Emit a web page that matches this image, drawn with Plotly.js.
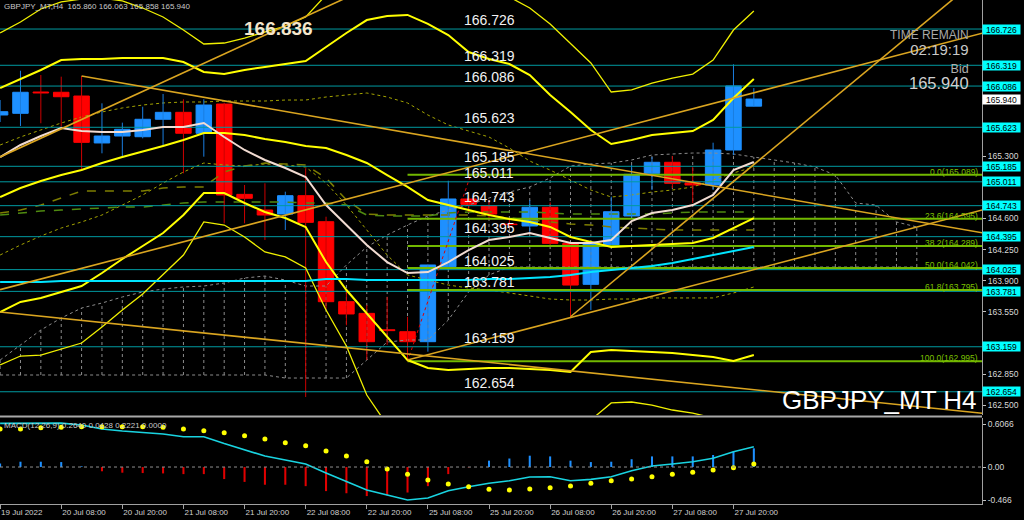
<!DOCTYPE html>
<html><head><meta charset="utf-8">
<script src="https://cdn.plot.ly/plotly-3.0.1.min.js"></script>
<style>html,body{margin:0;padding:0;background:#000;}#chart{width:1024px;height:520px;}</style>
</head><body><div id="chart"></div>
<script>
// ---- time axis ----
const tickIdx = [0,3,6,9,12,15,18,21,24,27,30,33,36];
const tickText = ['19 Jul 2022','20 Jul 08:00','20 Jul 20:00','21 Jul 08:00','21 Jul 20:00','22 Jul 08:00','22 Jul 20:00','25 Jul 08:00','25 Jul 20:00','26 Jul 08:00','26 Jul 20:00','27 Jul 08:00','27 Jul 20:00'];

// ---- H4 candles ----
const open  = [165.761,165.780,166.019,166.016,165.974,165.447,165.525,165.517,165.713,165.791,165.556,165.884,164.870,164.694,164.649,164.855,164.563,163.665,163.534,163.350,163.328,163.216,164.058,164.818,164.739,164.535,164.515,164.725,164.320,163.860,164.302,164.627,165.106,165.230,164.999,164.975,165.368,165.860];
const high  = [165.929,166.258,166.210,166.191,166.199,165.892,165.675,165.854,165.997,165.937,165.937,165.899,164.975,164.994,164.900,165.163,164.619,163.800,163.628,163.720,163.496,164.080,165.023,164.863,164.807,164.600,164.807,164.780,164.330,164.330,164.844,165.200,165.290,165.301,165.181,165.450,166.330,166.063];
const low   = [165.682,165.637,165.668,165.630,165.143,165.331,165.286,165.499,165.424,165.106,165.293,164.545,164.545,164.358,164.470,162.595,163.580,163.400,163.010,163.180,163.010,163.104,164.020,164.672,164.582,164.490,164.447,164.280,163.496,163.572,164.280,164.600,164.919,164.941,164.773,164.919,165.310,165.858];
const close = [165.798,166.016,166.008,165.966,165.454,165.525,165.600,165.713,165.791,165.556,165.873,164.863,164.826,164.638,164.855,164.556,163.665,163.527,163.216,163.340,163.216,164.077,164.818,164.758,164.649,164.530,164.725,164.320,163.852,164.313,164.675,165.095,165.230,164.994,164.975,165.368,166.087,165.940];

// ---- indicators (per bar) ----
const bbMid = [164.840,164.941,165.020,165.087,165.143,165.222,165.289,165.347,165.413,165.480,165.559,165.559,165.536,165.491,165.458,165.413,165.390,165.312,165.222,165.087,164.953,164.807,164.750,164.694,164.638,164.593,164.560,164.504,164.391,164.335,164.279,164.290,164.301,164.313,164.324,164.380,164.492,164.604];
const bbUp  = [166.064,166.165,166.266,166.378,166.390,166.390,166.401,166.401,166.401,166.356,166.244,166.221,166.266,166.300,166.333,166.367,166.524,166.682,166.827,166.872,166.884,166.783,166.659,166.468,166.390,166.333,166.210,165.985,165.795,165.593,165.435,165.480,165.536,165.559,165.581,165.705,165.952,166.165];
const bbLow = [163.549,163.662,163.706,163.774,163.841,163.987,164.144,164.290,164.436,164.638,164.885,164.885,164.773,164.672,164.604,164.504,164.110,163.796,163.538,163.269,163.010,162.921,162.898,162.909,162.921,162.921,162.909,162.898,162.876,163.100,163.123,163.111,163.100,163.089,163.066,163.044,162.999,163.066];
const bbUp3 = [166.682,166.805,166.951,167.030,167.063,167.074,167.041,166.962,166.861,166.715,166.558,166.569,166.625,166.693,166.760,166.861,167.108,167.333,167.557,167.670,167.670,167.557,167.389,167.277,167.164,167.086,166.962,166.783,166.569,166.345,166.019,166.042,166.120,166.176,166.221,166.378,166.715,166.929];
const bbLow3= [162.954,163.055,163.066,163.134,163.201,163.381,163.572,163.751,163.965,164.189,164.560,164.526,164.391,164.223,164.167,164.043,163.572,163.168,162.617,162.281,162.056,161.944,161.888,161.865,161.888,161.910,161.944,162.000,162.112,162.337,162.528,162.539,162.505,162.449,162.415,162.359,162.281,162.224];
const fastMA = [165.289,165.424,165.525,165.615,165.581,165.570,165.570,165.593,165.626,165.626,165.671,165.514,165.368,165.256,165.166,165.065,164.750,164.526,164.301,164.110,163.987,163.998,164.110,164.245,164.357,164.391,164.436,164.380,164.324,164.324,164.357,164.571,164.661,164.694,164.750,164.863,165.143,165.233];
const slowMA = [163.886,163.886,163.886,163.897,163.897,163.897,163.897,163.897,163.897,163.897,163.897,163.897,163.897,163.897,163.897,163.897,163.920,163.920,163.908,163.908,163.908,163.908,163.908,163.908,163.920,163.920,163.931,163.942,163.965,163.998,164.021,164.043,164.066,164.099,164.144,164.189,164.234,164.279];
const envUp = [165.424,165.514,165.593,165.671,165.739,165.795,165.840,165.873,165.896,165.907,165.907,165.918,165.918,165.918,165.929,165.929,165.963,165.985,166.008,165.963,165.896,165.761,165.649,165.581,165.514,165.390,165.244,165.143,165.031,164.919,164.840,164.863,164.896,164.919,164.953,165.031,165.110,165.177];
const envLow = [164.189,164.301,164.402,164.492,164.560,164.638,164.750,164.863,164.997,165.121,165.222,165.200,165.188,165.211,165.200,165.177,164.997,164.750,164.470,164.189,163.965,163.908,163.852,163.819,163.796,163.763,163.729,163.695,163.684,163.684,163.695,163.695,163.707,163.707,163.707,163.707,163.763,163.830];
const dashA = [164.661,164.694,164.750,164.829,164.908,164.908,164.908,164.908,164.941,164.953,164.953,165.121,165.188,165.222,165.211,165.200,165.054,164.807,164.649,164.638,164.638,164.638,164.638,164.638,164.627,164.604,164.582,164.560,164.537,164.526,164.504,164.492,164.481,164.470,164.470,164.470,164.470,164.470];
const dashB = [164.638,164.661,164.683,164.694,164.706,164.717,164.728,164.728,164.750,164.773,164.784,164.784,164.784,164.784,164.784,164.773,164.773,164.750,164.638,164.627,164.627,164.627,164.661,164.672,164.672,164.672,164.672,164.661,164.649,164.649,164.649,164.649,164.649,164.661,164.672,164.672,164.672,164.672];

// ---- dotted cloud (extends 8 bars ahead) ----
const cloudTop = [163.010,163.179,163.347,163.482,163.594,163.650,163.718,163.774,163.807,163.830,163.841,163.875,163.931,163.953,163.908,163.841,163.841,164.077,164.279,164.414,164.526,164.627,164.694,164.750,164.829,164.896,164.953,165.054,165.188,165.211,165.222,165.256,165.312,165.323,165.334,165.334,165.323,165.289,165.256,165.222,165.177,165.087,164.773,164.750,164.560,164.504];
const cloudBot = [162.842,162.842,162.842,162.842,162.842,162.842,162.842,162.842,162.842,162.842,162.842,162.842,162.842,162.842,162.808,162.808,162.808,162.808,163.010,163.212,163.235,163.235,163.459,163.774,163.965,164.054,164.054,164.054,164.054,164.054,164.054,164.054,164.054,164.054,164.054,164.054,164.054,164.054,164.054,164.054,164.054,164.054,164.054,164.054,164.054,164.054];

// ---- trend lines (bar index, price) ----
const tlX0 = [4, 0, 0, 0, 20, 28];
const tlY0 = [166.199, 163.800, 165.290, 163.550, 163.010, 163.496];
const tlX1 = [48.3, 48.3, 17.5, 48.3, 48.3, 48.3];
const tlY1 = [164.435, 166.685, 167.130, 162.410, 164.700, 167.350];

// ---- horizontal levels ----
const levels = [166.726,166.319,166.086,165.623,165.185,165.011,164.743,164.395,164.025,163.781,163.159,162.654];
const levelText = ['166.726','166.319','166.086','165.623','165.185','165.011','164.743','164.395','164.025','163.781','163.159','162.654'];

// ---- Fibonacci ----
const fibPct = ['0.0','23.6','38.2','50.0','61.8','100.0'];
const fibVal = [165.089,164.595,164.289,164.042,163.795,162.995];
const fibAnchorX = [20, 23.1];
const fibAnchorY = [162.995, 165.089];

// ---- MACD ----
const macdHist = [0.05,0.075,0.075,0.07,0.01,-0.06,-0.08,-0.085,-0.09,-0.10,-0.10,-0.17,-0.21,-0.25,-0.25,-0.27,-0.34,-0.37,-0.41,-0.40,-0.36,-0.27,-0.10,-0.005,0.09,0.12,0.16,0.15,0.09,0.07,0.075,0.11,0.15,0.15,0.15,0.17,0.22,0.264];
const macdMain = [0.617,0.62,0.62,0.62,0.593,0.537,0.508,0.484,0.466,0.428,0.428,0.332,0.24,0.155,0.099,0.042,-0.085,-0.208,-0.325,-0.395,-0.466,-0.438,-0.335,-0.278,-0.23,-0.193,-0.141,-0.137,-0.193,-0.174,-0.137,-0.052,0.014,0.042,0.075,0.123,0.216,0.287];
const macdSignal = [0.537,0.537,0.555,0.561,0.569,0.569,0.569,0.569,0.561,0.537,0.513,0.484,0.442,0.395,0.343,0.301,0.226,0.155,0.075,-0.028,-0.103,-0.184,-0.240,-0.278,-0.314,-0.325,-0.311,-0.292,-0.268,-0.230,-0.193,-0.169,-0.137,-0.103,-0.075,-0.042,-0.010,0.043];

const priceTicks = [162.5,162.85,163.55,163.9,164.25,164.6,165.3];
const macdTicks = [0.6066, 0, -0.466];
const macdTickText = ['0.6066','0.00','-0.466'];

// ---------------------------------------------------------------
const FONT = 'Liberation Sans, Arial, sans-serif';
const xRange = [-0.005, 48.2];
const bars = open.map((_, i) => i);
const cloudIdx = cloudTop.map((_, i) => i);
const BULL = '#1e90ff', BEAR = '#ff0000';

const traces = [];
// dotted cloud verticals
const vx = [], vy = [];
cloudIdx.forEach(i => { vx.push(i, i, null); vy.push(cloudBot[i], cloudTop[i], null); });
const dotGray = {color:'#8c8c8c', width:1, dash:'dot'};
traces.push({x:vx, y:vy, mode:'lines', line:dotGray});
traces.push({x:cloudIdx, y:cloudTop, mode:'lines', line:dotGray});
traces.push({x:cloudIdx, y:cloudBot, mode:'lines', line:dotGray});
// envelopes and dashed lines
traces.push({x:bars, y:envUp, mode:'lines', line:{color:'#a3a300', width:1, dash:'dot'}});
traces.push({x:bars, y:envLow, mode:'lines', line:{color:'#a3a300', width:1, dash:'dot'}});
traces.push({x:bars, y:dashA, mode:'lines', line:{color:'#7d7d00', width:1.5, dash:'dash'}});
traces.push({x:bars, y:dashB, mode:'lines', line:{color:'#4f8a10', width:1.5, dash:'dash'}});
// candle wicks
const wBx = [], wBy = [], wRx = [], wRy = [];
bars.forEach(i => {
  if (close[i] >= open[i]) { wBx.push(i, i, null); wBy.push(low[i], high[i], null); }
  else { wRx.push(i, i, null); wRy.push(low[i], high[i], null); }
});
traces.push({x:wBx, y:wBy, mode:'lines', line:{color:'#1a7ee0', width:1}});
traces.push({x:wRx, y:wRy, mode:'lines', line:{color:'#cc0000', width:1}});
// candle bodies
const bodyColor = bars.map(i => close[i] >= open[i] ? BULL : BEAR);
traces.push({type:'bar', x:bars, base:bars.map(i => Math.min(open[i], close[i])),
  y:bars.map(i => Math.abs(close[i] - open[i])), width:0.76,
  marker:{color:bodyColor, line:{color:bodyColor, width:1}}});
// level lines
levels.forEach(v => traces.push({x:xRange, y:[v, v], mode:'lines', line:{color:'#009aa0', width:1}}));
// fib lines
fibVal.forEach(v => traces.push({x:[fibAnchorX[0], xRange[1]], y:[v, v], mode:'lines', line:{color:'#72b800', width:2}}));
traces.push({x:fibAnchorX, y:fibAnchorY, mode:'lines', line:{color:'#e00000', width:1, dash:'dot'}});
// bollinger bands
traces.push({x:bars, y:bbUp3, mode:'lines', line:{color:'#f0f000', width:1.3}});
traces.push({x:bars, y:bbLow3, mode:'lines', line:{color:'#f0f000', width:1.3}});
traces.push({x:bars, y:bbUp, mode:'lines', line:{color:'#ffff00', width:2}});
traces.push({x:bars, y:bbLow, mode:'lines', line:{color:'#ffff00', width:2}});
traces.push({x:bars, y:bbMid, mode:'lines', line:{color:'#ffff00', width:2}});
// moving averages
traces.push({x:bars, y:slowMA, mode:'lines', line:{color:'#00e5ff', width:2}});
traces.push({x:bars, y:fastMA, mode:'lines', line:{color:'#f2dcd2', width:2}});
// trend lines
tlX0.forEach((x0, k) => traces.push({x:[x0, tlX1[k]], y:[tlY0[k], tlY1[k]], mode:'lines', line:{color:'#daa520', width:1.6}}));
// MACD
traces.push({type:'bar', x:bars, y:macdHist, width:0.1, yaxis:'y2',
  marker:{color: macdHist.map(v => v >= 0 ? BULL : '#e00000'), line:{width:0}}});
traces.push({x:bars, y:macdMain, yaxis:'y2', mode:'lines', line:{color:'#19d3e0', width:1.6}});
traces.push({x:bars, y:macdSignal, yaxis:'y2', mode:'markers', marker:{color:'#ffff00', size:5}});

// ---- annotations ----
const ann = [];
levels.forEach((v, k) => {
  ann.push({xref:'paper', yref:'y', x:0.4705, y:v, xanchor:'left', yanchor:'bottom', yshift:-1, showarrow:false,
    text:levelText[k], font:{family:FONT, size:14, color:'#f2f2f2'}});
  ann.push({xref:'paper', yref:'y', x:1, y:v, xanchor:'left', yanchor:'middle', showarrow:false,
    text:levelText[k], bgcolor:'#00ffff', width:37, height:9, borderpad:0, font:{family:FONT, size:8.5, color:'#000'}});
});
fibVal.forEach((v, k) => ann.push({xref:'paper', yref:'y', x:0.998, y:v, xanchor:'right', yanchor:'middle', yshift:3, showarrow:false,
  text:fibPct[k] + '(' + v.toFixed(3) + ')', font:{family:FONT, size:8.5, color:'#7cc000'}}));
ann.push({xref:'paper', yref:'y', x:1, y:close[close.length-1], xanchor:'left', yanchor:'middle', showarrow:false,
  text:close[close.length-1].toFixed(3), bgcolor:'#ffffff', width:37, height:9, borderpad:0, font:{family:FONT, size:8.5, color:'#000'}});
ann.push({xref:'paper', yref:'paper', x:0.002, y:0.988, xanchor:'left', yanchor:'middle', showarrow:false,
  text:'GBPJPY_MT,H4  ' + open[37].toFixed(3) + ' ' + high[37].toFixed(3) + ' ' + low[37].toFixed(3) + ' ' + close[37].toFixed(3),
  font:{family:FONT, size:8, color:'#c8c8c8'}});
ann.push({xref:'paper', yref:'paper', x:0.2831, y:0.9444, xanchor:'center', yanchor:'middle', showarrow:false,
  text:'<b>166.836</b>', font:{family:FONT, size:19, color:'#f5e6cc'}});
ann.push({xref:'paper', yref:'paper', x:0.988, y:0.9137, xanchor:'right', yanchor:'middle', align:'right', showarrow:false, borderpad:0,
  text:'<span style="color:#a8a8a8">TIME REMAIN</span><br><span style="font-size:15px">02:19:19</span>',
  font:{family:FONT, size:12, color:'#c8c8c8'}});
ann.push({xref:'paper', yref:'paper', x:0.988, y:0.8472, xanchor:'right', yanchor:'middle', align:'right', showarrow:false, borderpad:0,
  text:'<span style="color:#b0b0b0">Bid</span><br><span style="font-size:16.5px">' + close[37].toFixed(3) + '</span>',
  font:{family:FONT, size:12.5, color:'#d0d0d0'}});
ann.push({xref:'paper', yref:'paper', x:0.997, y:0.2063, xanchor:'right', yanchor:'middle', showarrow:false,
  text:'GBPJPY_MT H4', font:{family:FONT, size:26, color:'#ffffff'}});
ann.push({xref:'paper', yref:'paper', x:0.002, y:0.1567, xanchor:'left', yanchor:'middle', showarrow:false,
  text:'MACD(12,26,9) 0.2640 0.0428 0.2221 0.0000', font:{family:FONT, size:8, color:'#c8c8c8'}});

const layout = {
  width:1024, height:520, margin:{l:0, r:42, t:0, b:16},
  paper_bgcolor:'#000', plot_bgcolor:'#000', showlegend:false, barmode:'overlay',
  font:{family:FONT, color:'#d0d0d0'},
  xaxis:{anchor:'y2', range:xRange, showgrid:false, zeroline:false,
    tickvals:tickIdx, ticktext:tickText, ticks:'outside', ticklen:4, tickcolor:'#a0a0a0',
    ticklabelposition:'outside right', tickfont:{family:FONT, size:8, color:'#d0d0d0'},
    showline:true, linecolor:'#a0a0a0', linewidth:1},
  yaxis:{domain:[0.1766, 1], range:[162.393, 167.052], side:'right', showgrid:false, zeroline:false,
    tickvals:priceTicks, tickformat:'.3f', ticks:'outside', ticklen:3, tickcolor:'#c0c0c0',
    tickfont:{family:FONT, size:8.5, color:'#d8d8d8'}, showline:true, linecolor:'#a0a0a0'},
  yaxis2:{domain:[0, 0.1706], range:[-0.522, 0.692], side:'right', showgrid:false, zeroline:false,
    tickvals:macdTicks, ticktext:macdTickText, ticks:'outside', ticklen:3, tickcolor:'#c0c0c0',
    tickfont:{family:FONT, size:8.5, color:'#d8d8d8'}, showline:true, linecolor:'#a0a0a0'},
  shapes:[
    {type:'line', xref:'paper', yref:'paper', x0:0, x1:1, y0:0.1736, y1:0.1736, line:{color:'#a8a8a8', width:2}},
    {type:'line', xref:'paper', yref:'y2', x0:0, x1:1, y0:0, y1:0, line:{color:'#909090', width:1, dash:'dot'}}
  ],
  annotations:ann
};
Plotly.newPlot('chart', traces, layout, {staticPlot:true, displayModeBar:false});
</script></body></html>
